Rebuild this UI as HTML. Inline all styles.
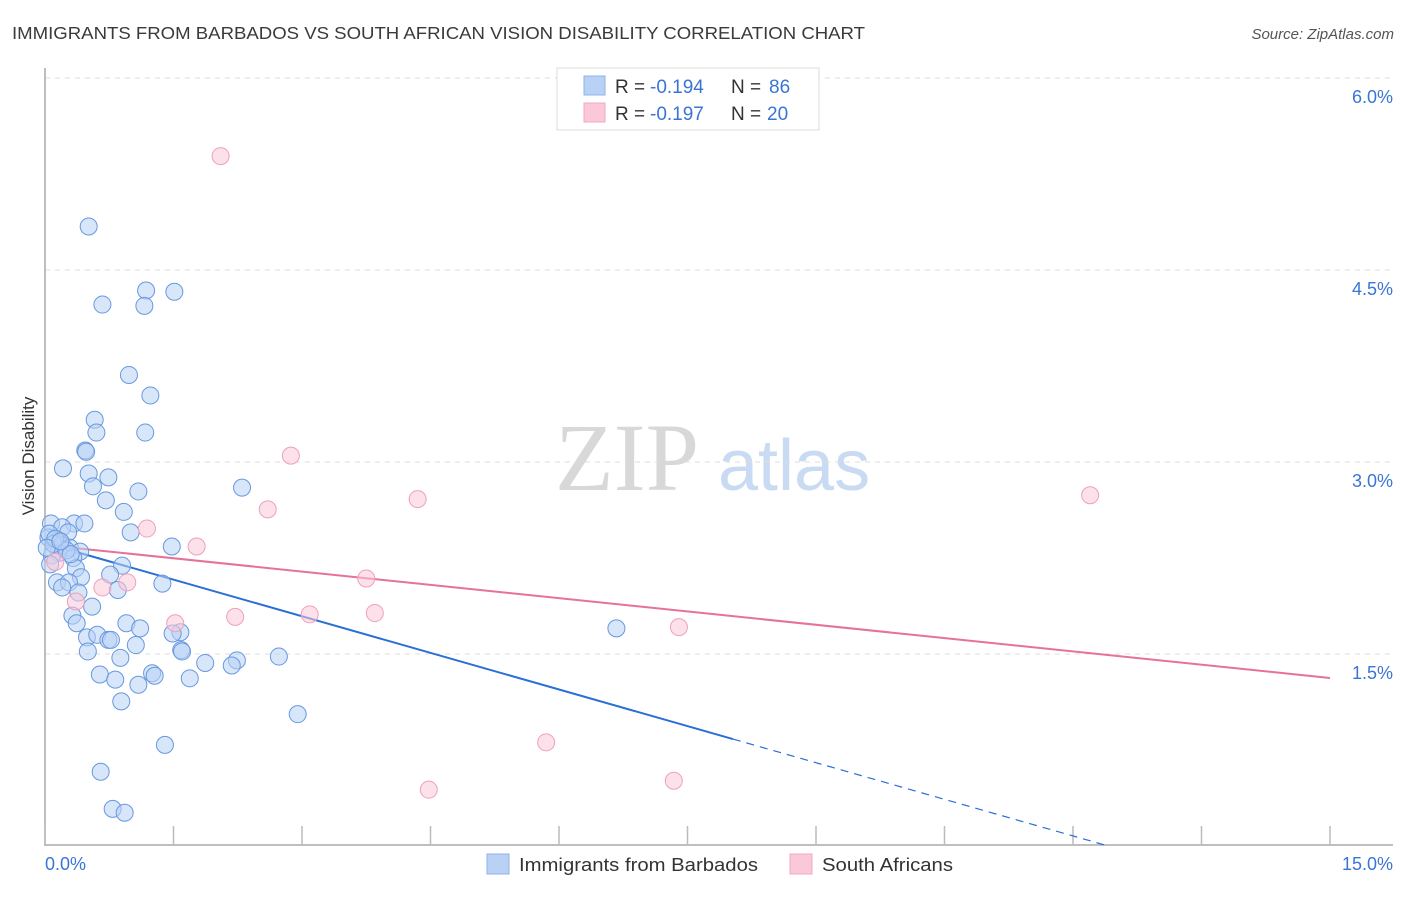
<!DOCTYPE html>
<html><head><meta charset="utf-8"><style>
body{margin:0;background:#fff;font-family:"Liberation Sans",sans-serif;}
svg text{font-family:"Liberation Sans",sans-serif;}
</style></head><body>
<svg id="chart" width="1406" height="892" viewBox="0 0 1406 892" xmlns="http://www.w3.org/2000/svg">
<text x="12" y="39" font-size="17.5" fill="#3a3a3a" textLength="853" lengthAdjust="spacingAndGlyphs">IMMIGRANTS FROM BARBADOS VS SOUTH AFRICAN VISION DISABILITY CORRELATION CHART</text>
<text x="1394" y="39" font-size="15" font-style="italic" fill="#555" text-anchor="end">Source: ZipAtlas.com</text>
<g>
<text x="555" y="490" font-size="96" fill="#d8d8d8" style="font-family:'Liberation Serif',serif">ZIP</text>
<text x="718" y="490" font-size="72" fill="#c9daf3">atlas</text>
</g>
<g id="grid"></g>
<g id="axes"></g>
<g id="trend"></g>
<g id="pts"></g>
<text transform="translate(34,456) rotate(-90)" font-size="17" fill="#333" text-anchor="middle">Vision Disability</text>
<g>
<rect x="557" y="68" width="262" height="62" fill="#fff" stroke="#ddd"/>
<rect x="584" y="76" width="21" height="19" fill="#b8d1f5" stroke="#8fb3e8"/>
<rect x="584" y="103" width="21" height="19" fill="#fbc8d8" stroke="#f0a8c0"/>
<text x="615" y="93" font-size="19" fill="#333">R =</text>
<text x="650" y="93" font-size="19" fill="#3a75d6">-0.194</text>
<text x="731" y="93" font-size="19" fill="#333">N =</text>
<text x="769" y="93" font-size="19" fill="#3a75d6">86</text>
<text x="615" y="120" font-size="19" fill="#333">R =</text>
<text x="650" y="120" font-size="19" fill="#3a75d6">-0.197</text>
<text x="731" y="120" font-size="19" fill="#333">N =</text>
<text x="767" y="120" font-size="19" fill="#3a75d6">20</text>
</g>
<g>
<rect x="487" y="854" width="22" height="20" fill="#b8d1f5" stroke="#8fb3e8"/>
<text x="519" y="871" font-size="18" fill="#333" textLength="239" lengthAdjust="spacingAndGlyphs">Immigrants from Barbados</text>
<rect x="790" y="854" width="22" height="20" fill="#fbc8d8" stroke="#f0a8c0"/>
<text x="822" y="871" font-size="18" fill="#333" textLength="131" lengthAdjust="spacingAndGlyphs">South Africans</text>
</g>
</svg>
<script>
const blueX=[0.51,0.67,1.18,1.51,1.16,0.98,1.23,0.58,0.60,1.17,0.47,0.48,0.21,0.51,0.74,0.56,1.09,2.30,0.71,0.92,0.07,0.34,0.46,0.20,0.27,1.00,0.04,0.15,0.20,0.29,1.48,0.41,0.16,0.08,0.33,0.90,0.36,0.42,0.76,0.14,0.28,1.37,0.20,0.85,0.39,0.55,0.32,0.37,0.95,1.11,6.67,0.49,0.61,0.74,0.77,1.58,1.49,1.06,0.50,1.59,1.60,2.73,0.88,1.87,2.24,2.18,0.64,1.25,1.28,0.82,1.69,1.09,0.89,2.95,1.40,0.65,0.79,0.93,0.05,0.10,0.25,0.12,0.02,0.30,0.18,0.06];
const blueY=[4.84,4.23,4.34,4.33,4.22,3.68,3.52,3.33,3.23,3.23,3.09,3.08,2.95,2.91,2.88,2.81,2.77,2.80,2.70,2.61,2.52,2.52,2.52,2.49,2.45,2.45,2.41,2.39,2.35,2.33,2.34,2.30,2.29,2.27,2.25,2.19,2.17,2.10,2.12,2.06,2.06,2.05,2.02,2.00,1.98,1.87,1.80,1.74,1.74,1.70,1.70,1.63,1.65,1.61,1.61,1.67,1.66,1.57,1.52,1.53,1.52,1.48,1.47,1.43,1.45,1.41,1.34,1.35,1.33,1.30,1.31,1.26,1.13,1.03,0.79,0.58,0.29,0.26,2.44,2.36,2.31,2.40,2.33,2.28,2.38,2.20];
const pinkX=[2.05,2.87,12.20,4.35,2.60,1.19,1.77,0.12,3.75,0.96,0.67,0.36,3.09,3.85,2.22,1.52,7.40,5.85,7.34,4.48];
const pinkY=[5.39,3.05,2.74,2.71,2.63,2.48,2.34,2.22,2.09,2.06,2.02,1.91,1.81,1.82,1.79,1.74,1.71,0.81,0.51,0.44];
const yTicks=[1.5,3.0,4.5,6.0];
const yTickLabels=["1.5%","3.0%","4.5%","6.0%"];
const xTicks=[0,1.5,3,4.5,6,7.5,9,10.5,12,13.5,15];
const blueTrend=[2.367,-0.1907,8.03,12.4];
const pinkTrend=[2.352,-0.0693,15];
const X0=45,X1=1330,Y0=846,PY=128;
const sx=v=>X0+(X1-X0)*v/15, sy=v=>Y0-v*PY;
const NS="http://www.w3.org/2000/svg";
function mk(t,a,p){const e=document.createElementNS(NS,t);for(const k in a)e.setAttribute(k,a[k]);p.appendChild(e);return e;}
const grid=document.getElementById('grid'),axes=document.getElementById('axes'),trend=document.getElementById('trend'),pts=document.getElementById('pts');
yTicks.forEach((v,i)=>{
 const l=mk('line',{x1:45,x2:1393,y1:sy(v),y2:sy(v),stroke:'#ddd','stroke-dasharray':'5,5'},grid);
 
 
 const t=mk('text',{x:1393,y:sy(v)+25,'font-size':18,fill:'#3a75d6','text-anchor':'end'},axes);
 t.textContent=yTickLabels[i];
 
 
});
mk('line',{x1:45,x2:45,y1:68,y2:846,stroke:'#aaa','stroke-width':1.5},axes);
mk('line',{x1:45,x2:1393,y1:845,y2:845,stroke:'#aaa','stroke-width':1.5},axes);
xTicks.forEach(v=>{const l=mk('line',{x1:sx(v),x2:sx(v),y1:826,y2:845,stroke:'#bbb','stroke-width':1.5},axes);
 
 });
let t=mk('text',{x:45,y:870,'font-size':18,fill:'#3a75d6'},axes);t.textContent='0.0%';

t=mk('text',{x:1393,y:870,'font-size':18,fill:'#3a75d6','text-anchor':'end'},axes);t.textContent='15.0%';

blueX.forEach((x,i)=>{const c=mk('circle',{cx:sx(x),cy:sy(blueY[i]),r:8.5,fill:'#b8d1f5','fill-opacity':0.55,stroke:'#6898de','stroke-width':1},pts);
 
 });
pinkX.forEach((x,i)=>{const c=mk('circle',{cx:sx(x),cy:sy(pinkY[i]),r:8.5,fill:'#fbc8d8','fill-opacity':0.55,stroke:'#eea0ba','stroke-width':1},pts);
 
 });
const bf=x=>blueTrend[0]+blueTrend[1]*x;
let l=mk('line',{x1:sx(0),y1:sy(bf(0)),x2:sx(blueTrend[2]),y2:sy(bf(blueTrend[2])),stroke:'#2a6fd6','stroke-width':2},trend);

l=mk('line',{x1:sx(blueTrend[2]),y1:sy(bf(blueTrend[2])),x2:sx(blueTrend[3]),y2:sy(bf(blueTrend[3])),stroke:'#2a6fd6','stroke-width':1.2,'stroke-dasharray':'8,6'},trend);

const pf=x=>pinkTrend[0]+pinkTrend[1]*x;
l=mk('line',{x1:sx(0),y1:sy(pf(0)),x2:sx(pinkTrend[2]),y2:sy(pf(pinkTrend[2])),stroke:'#e5729a','stroke-width':2},trend);

</script>
</body></html>
